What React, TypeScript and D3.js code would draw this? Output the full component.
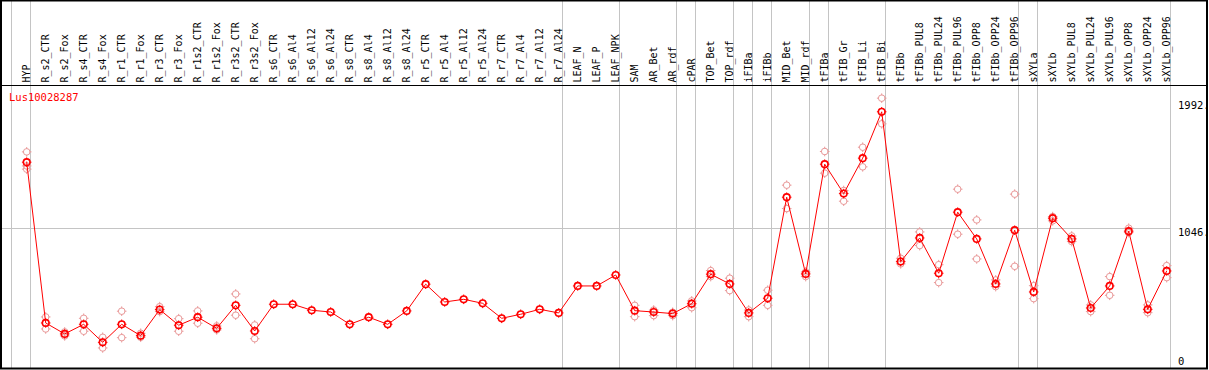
import React from "react";
import * as d3 from "d3";

const categories = [
  "HYP","R_s2_CTR","R_s2_Fox","R_s4_CTR","R_s4_Fox","R_r1_CTR","R_r1_Fox","R_r3_CTR","R_r3_Fox",
  "R_r1s2_CTR","R_r1s2_Fox","R_r3s2_CTR","R_r3s2_Fox","R_s6_CTR","R_s6_Al4","R_s6_Al12","R_s6_Al24",
  "R_s8_CTR","R_s8_Al4","R_s8_Al12","R_s8_Al24","R_r5_CTR","R_r5_Al4","R_r5_Al12","R_r5_Al24",
  "R_r7_CTR","R_r7_Al4","R_r7_Al12","R_r7_Al24","LEAF_N","LEAF_P","LEAF_NPK","SAM","AR_Bet","AR_rdf",
  "cPAR","TOP_Bet","TOP_rdf","iFIBa","iFIBb","MID_Bet","MID_rdf","tFIBa","tFIB_Gr","tFIB_Li","tFIB_Bi",
  "tFIBb","tFIBb_PUL8","tFIBb_PUL24","tFIBb_PUL96","tFIBb_OPP8","tFIBb_OPP24","tFIBb_OPP96",
  "sXYLa","sXYLb","sXYLb_PUL8","sXYLb_PUL24","sXYLb_PUL96","sXYLb_OPP8","sXYLb_OPP24","sXYLb_OPP96"
];

const meanValues = [
  1540,337,255,327,192,327,242,437,320,380,297,469,277,477,477,432,419,
  327,380,327,427,627,494,514,484,372,402,439,412,614,614,696,429,419,407,
  481,702,629,412,522,1278,704,1525,1305,1570,1917,
  796,973,709,1166,966,629,1031,
  569,1121,966,449,614,1024,439,726
];

const replicateA: (number | null)[] = [
  1617,382,270,372,230,425,260,459,369,427,315,554,322,null,null,null,null,
  null,null,null,null,null,null,null,null,null,null,null,null,null,null,null,469,434,417,
  502,729,672,434,582,1368,684,1620,1328,1652,2019,
  821,1018,773,1338,1108,659,1301,
  616,1133,946,472,684,1046,472,766
];

const replicateB: (number | null)[] = [
  1488,292,240,275,150,227,230,422,275,335,285,395,219,null,null,null,null,
  null,null,null,null,null,null,null,null,null,null,null,null,null,null,null,384,392,392,
  451,684,579,384,469,1193,719,1458,1248,1505,1827,
  779,916,639,1001,816,609,761,
  519,1101,988,422,544,1013,414,676
];

const replicateC: (number | null)[] = [
  1512,null,null,null,null,null,null,null,null,null,null,null,null,null,null,null,null,
  null,null,null,null,null,null,null,null,null,null,null,null,null,null,null,null,null,null,
  null,null,null,null,null,null,null,null,null,null,null,
  null,null,null,null,null,null,null,
  null,null,null,null,null,null,null,null
];

const groupStarts = ["HYP","R_s2_CTR","LEAF_N","SAM","cPAR","TOP_Bet","iFIBa","iFIBb","MID_Bet","tFIBa","tFIB_Gr","tFIBb","sXYLa","sXYLb"];
const axisTicks = [1992, 1046, 0];
const gridValues = [1046];
const geneLabel = "Lus10028287";

const W = 1209, H = 370;
const plotLeft = 11, plotRight = 1170, plotTop = 86, plotBottom = 368, headerY = 85;
const RED = "#ff0000";
const PALE = "#e99a9a";
const GRID = "#c4c4c4";
const FONT = "'DejaVu Sans Mono', monospace";

function Marker({ x, y, color, sw }: { x: number; y: number; color: string; sw: number }) {
  const r = 3.3;
  return (
    <g>
      <circle cx={x} cy={y} r={r} fill="none" stroke={color} strokeWidth={sw} />
      <line x1={x} x2={x} y1={y - r - 1.5} y2={y - r + 0.5} stroke={color} strokeWidth={1} />
      <line x1={x} x2={x} y1={y + r - 0.5} y2={y + r + 1.5} stroke={color} strokeWidth={1} />
      <line x1={x - r - 1.5} x2={x - r + 0.5} y1={y} y2={y} stroke={color} strokeWidth={1} />
      <line x1={x + r - 0.5} x2={x + r + 1.5} y1={y} y2={y} stroke={color} strokeWidth={1} />
    </g>
  );
}

export default function App() {
  const xBand = d3.scaleBand<string>().domain(categories).range([plotLeft, plotRight]).padding(0);
  const bw = xBand.bandwidth();
  const px = (c: string) => (xBand(c) as number) + bw * 0.826;
  const y = d3.scaleLinear().domain([0, 2110]).range([plotBottom, plotTop]);

  const line = d3.line<number>().x((_, i) => px(categories[i])).y((d) => y(d));

  const separators = groupStarts.map((c) => xBand(c) as number).concat([plotRight]);
  const reps = [replicateA, replicateB, replicateC];

  return (
    <svg width={W} height={H} style={{ position: "absolute", left: 0, top: 0, background: "#fff" }}>
      <rect x={0} y={0} width={W} height={H} fill="#fff" />
      {separators.map((sx, i) => (
        <line key={"s" + i} x1={Math.round(sx) + 0.5} x2={Math.round(sx) + 0.5} y1={0} y2={plotBottom} stroke={GRID} strokeWidth={1} />
      ))}
      {gridValues.map((v) => (
        <line key={"g" + v} x1={plotLeft - 10} x2={plotRight} y1={Math.round(y(v)) + 0.5} y2={Math.round(y(v)) + 0.5} stroke={GRID} strokeWidth={1} />
      ))}
      <line x1={0} x2={W - 2} y1={headerY + 0.5} y2={headerY + 0.5} stroke="#000" strokeWidth={1} />
      {categories.map((c) => (
        <text
          key={"l" + c}
          transform={`translate(${px(c) + 3.6},${82.5}) rotate(-90)`}
          fontFamily={FONT}
          fontSize={10}
          fill="#000"
        >
          {c}
        </text>
      ))}
      <text x={9} y={101} fontFamily={FONT} fontSize={10.5} fill={RED}>{geneLabel}</text>
      {axisTicks.map((v) => (
        <text key={"t" + v} x={1178} y={v === 0 ? 365 : y(v) + 7.5} fontFamily={FONT} fontSize={10.5} fill="#000">
          {v === 0 ? "0" : v + "."}
        </text>
      ))}
      {reps.map((rep, ri) =>
        rep.map((v, i) =>
          v == null ? null : <Marker key={`r${ri}-${i}`} x={px(categories[i])} y={y(v)} color={PALE} sw={1} />
        )
      )}
      <path d={line(meanValues) || ""} fill="none" stroke={RED} strokeWidth={1} />
      {meanValues.map((v, i) => (
        <Marker key={"m" + i} x={px(categories[i])} y={y(v)} color={RED} sw={1.6} />
      ))}
      <rect x={1} y={0.5} width={W - 3} height={plotBottom} fill="none" stroke="#000" strokeWidth={2} />
    </svg>
  );
}
